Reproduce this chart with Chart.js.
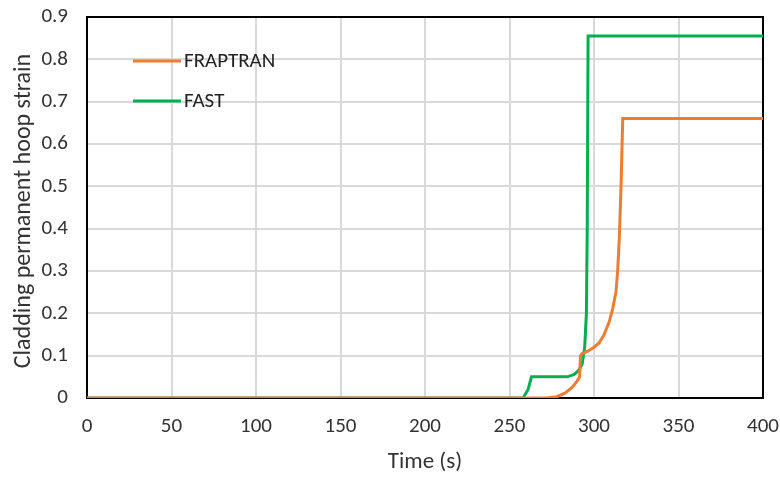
<!DOCTYPE html>
<html>
<head>
<meta charset="utf-8">
<script src="https://cdn.jsdelivr.net/npm/chart.js@4"></script>
<style>
  html, body { margin: 0; padding: 0; background: #fff; }
  #wrap { width: 780px; height: 477px; }
</style>
</head>
<body>
<div id="wrap"><canvas id="strainChart"></canvas></div>
<script>
const fraptranTime   = [0, 272, 278, 283, 287, 290, 291.5, 292, 293, 296, 300, 303, 306, 309, 311, 313, 314, 315, 316, 317, 400];
const fraptranStrain = [0, 0, 0.003, 0.012, 0.025, 0.04, 0.05, 0.1, 0.105, 0.11, 0.12, 0.13, 0.15, 0.18, 0.21, 0.25, 0.3, 0.38, 0.5, 0.66, 0.66];
const fastTime   = [0, 258, 261, 263, 284, 288, 291, 293, 294.5, 295.5, 296, 296.5, 400];
const fastStrain = [0, 0, 0.02, 0.05, 0.05, 0.055, 0.065, 0.08, 0.12, 0.2, 0.4, 0.855, 0.855];
const xTicks = [0, 400, 50];
const yTicks = [0, 0.9, 0.1];
const xTitle = 'Time (s)';
const yTitle = 'Cladding permanent hoop strain';

const toPoints = (xs, ys) => xs.map((x, i) => ({ x: x, y: ys[i] }));
const FONT = "Carlito, 'Open Sans', 'Noto Sans', sans-serif";
const TEXT = '#333';

// black frame round the plot, under the lines
const framePlugin = {
  id: 'frame',
  beforeDatasetsDraw(chart) {
    const a = chart.chartArea, c = chart.ctx;
    c.save();
    c.strokeStyle = '#000';
    c.lineWidth = 2;
    c.strokeRect(a.left, a.top, a.right - a.left, a.bottom - a.top);
    c.restore();
  }
};

// legend inside the plot + the two axis titles
const labelsPlugin = {
  id: 'labels',
  afterDraw(chart) {
    const a = chart.chartArea, c = chart.ctx;
    c.save();
    c.font = '21px ' + FONT;
    c.textBaseline = 'middle';
    chart.data.datasets.forEach((ds, i) => {
      const y = a.top + 44 + i * 40;
      c.strokeStyle = ds.borderColor;
      c.lineWidth = 3;
      c.beginPath();
      c.moveTo(a.left + 46, y);
      c.lineTo(a.left + 94, y);
      c.stroke();
      c.fillStyle = '#222';
      c.fillText(ds.label, a.left + 97, y + 1);
    });

    c.fillStyle = TEXT;
    c.textAlign = 'center';
    c.font = '23px ' + FONT;
    c.fillText(xTitle, (a.left + a.right) / 2, 462);
    c.font = '24px ' + FONT;
    c.translate(24, 211);
    c.rotate(-Math.PI / 2);
    c.fillText(yTitle, 0, 0);
    c.restore();
  }
};

const ctx = document.getElementById('strainChart').getContext('2d');
new Chart(ctx, {
  type: 'line',
  data: {
    datasets: [{
      label: 'FRAPTRAN',
      data: toPoints(fraptranTime, fraptranStrain),
      borderColor: '#ED7D31',
      borderWidth: 3,
      pointRadius: 0,
      tension: 0
    }, {
      label: 'FAST',
      data: toPoints(fastTime, fastStrain),
      borderColor: '#00B050',
      borderWidth: 3,
      pointRadius: 0,
      tension: 0
    }]
  },
  options: {
    responsive: true,
    maintainAspectRatio: false,
    animation: false,
    layout: { padding: { top: 17, right: 17, left: 0, bottom: 0 } },
    scales: {
      x: {
        type: 'linear',
        min: xTicks[0], max: xTicks[1],
        ticks: { stepSize: xTicks[2], color: TEXT, font: { family: FONT, size: 21 }, padding: 16 },
        grid: { color: '#d9d9d9', lineWidth: 2, drawTicks: false },
        border: { display: false },
        afterFit(s) { s.height = 79; s.paddingLeft = 0; s.paddingRight = 0; }
      },
      y: {
        min: yTicks[0], max: yTicks[1],
        ticks: {
          stepSize: yTicks[2], color: TEXT, font: { family: FONT, size: 21 }, padding: 19,
          callback: v => v === 0 ? '0' : v.toFixed(1)
        },
        grid: { color: '#d9d9d9', lineWidth: 2, drawTicks: false },
        border: { display: false },
        afterFit(s) { s.width = 87; s.paddingTop = 0; s.paddingBottom = 0; }
      }
    },
    plugins: {
      legend: { display: false },
      tooltip: { enabled: false }
    }
  },
  plugins: [framePlugin, labelsPlugin]
});
</script>
</body>
</html>
